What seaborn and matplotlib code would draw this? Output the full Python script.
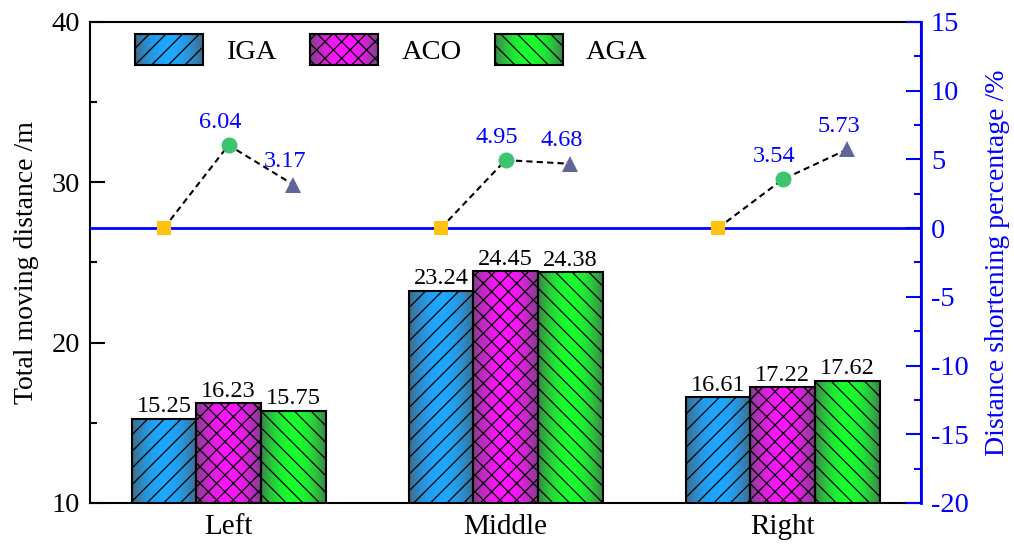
import numpy as np
import pandas as pd
import matplotlib
matplotlib.use("Agg")
import matplotlib.pyplot as plt
import seaborn as sns
from matplotlib.colors import to_rgb
from matplotlib.patches import Rectangle
from matplotlib.legend_handler import HandlerBase
from matplotlib.ticker import MultipleLocator

# ---- data -------------------------------------------------------------
positions = ["Left", "Middle", "Right"]
algorithms = ["IGA", "ACO", "AGA"]

iga_distance = [15.25, 23.24, 16.61]
aco_distance = [16.23, 24.45, 17.22]
aga_distance = [15.75, 24.38, 17.62]

iga_shortening = [0.0, 0.0, 0.0]
aco_shortening = [6.04, 4.95, 3.54]
aga_shortening = [3.17, 4.68, 5.73]

# ---- styling ----------------------------------------------------------
bar_colors = {"IGA": "#1ea7ff", "ACO": "#ff14ff", "AGA": "#18ff2c"}
bar_hatches = {"IGA": "//", "ACO": "xx", "AGA": "\\\\"}
point_styles = {"IGA": ("s", "#ffc20e", 10),
                "ACO": ("o", "#3dc46f", 11.5),
                "AGA": ("^", "#62659a", 11.5)}
BLUE = "#0000ff"

sns.set_theme(style="ticks")
plt.rcParams["font.family"] = ["Liberation Serif", "DejaVu Serif"]
plt.rcParams["axes.unicode_minus"] = False
plt.rcParams["hatch.linewidth"] = 0.9
for key in ("text.color", "axes.labelcolor", "xtick.color", "ytick.color",
            "axes.edgecolor"):
    plt.rcParams[key] = "black"


def shade(color, n):
    """Horizontal shading: dark greyish edges, bright centre."""
    c = np.array(to_rgb(color))
    edge = 0.25 * c + 0.75 * np.array([0.30, 0.32, 0.35])
    t = np.linspace(0, 1, n)
    f = np.sin(np.pi * t) ** 0.8
    return edge + (c - edge) * f[:, None]


class ShadedPatchHandler(HandlerBase):
    def create_artists(self, legend, orig_handle, xdescent, ydescent,
                       width, height, fontsize, trans):
        x0, y0 = -xdescent, -ydescent
        n = 40
        cols = shade(orig_handle.get_facecolor(), n)
        arts = []
        for k, c in enumerate(cols):
            arts.append(Rectangle((x0 + k * width / n, y0), width / n * 1.1, height,
                                  facecolor=c, edgecolor="none", transform=trans))
        arts.append(Rectangle((x0, y0), width, height, facecolor="none",
                              edgecolor="black", hatch=orig_handle.get_hatch(),
                              linewidth=1.5, transform=trans))
        return arts


df = pd.DataFrame({
    "position": positions * 3,
    "algorithm": np.repeat(algorithms, len(positions)),
    "distance": iga_distance + aco_distance + aga_distance,
})
shortening = {"IGA": iga_shortening, "ACO": aco_shortening, "AGA": aga_shortening}

fig = plt.figure(figsize=(10.14, 5.44), dpi=100)
ax = fig.add_axes([0.0888, 0.0754, 0.8196, 0.8842])

sns.barplot(data=df, x="position", y="distance", hue="algorithm",
            order=positions, hue_order=algorithms, palette=bar_colors,
            width=0.7, saturation=1, edgecolor="black", linewidth=1.5,
            legend=False, ax=ax)

# shaded fill + hatch on each bar
centers = {}
for container, alg in zip(ax.containers, algorithms):
    grad = shade(bar_colors[alg], 64)[np.newaxis, :, :]
    centers[alg] = []
    for bar in container:
        x0, w = bar.get_x(), bar.get_width()
        y0, h = bar.get_y(), bar.get_height()
        ax.imshow(grad, extent=[x0, x0 + w, y0, y0 + h], aspect="auto",
                  interpolation="bilinear", zorder=1.5)
        bar.set_facecolor("none")
        bar.set_hatch(bar_hatches[alg])
        bar.set_zorder(2)
        centers[alg].append(x0 + w / 2)
    ax.bar_label(container, fmt="%.2f", fontsize=17.5, padding=1, color="black")

ax.set_xlim(-0.5, 2.5)
ax.set_ylim(10, 40)
ax.yaxis.set_major_locator(MultipleLocator(10))
ax.yaxis.set_minor_locator(MultipleLocator(5))
ax.set_xlabel("")
ax.set_ylabel("Total moving distance /m", fontsize=20, labelpad=9)
ax.tick_params(axis="y", which="major", direction="in", length=11, width=1.5,
               labelsize=20.5, pad=7, colors="black")
ax.tick_params(axis="y", which="minor", direction="in", length=5, width=1.5)
ax.tick_params(axis="x", length=0, labelsize=21, pad=8, colors="black")
for s in ax.spines.values():
    s.set_linewidth(1.5)
    s.set_color("black")
    s.set_visible(True)

# ---- secondary axis: shortening percentage ----------------------------
ax2 = ax.twinx()
ax2.axhline(0, color=BLUE, linewidth=2, zorder=1)
for i in range(len(positions)):
    xs = [centers[a][i] for a in algorithms]
    ys = [shortening[a][i] for a in algorithms]
    ax2.plot(xs, ys, color="black", linestyle=(0, (3, 2)), linewidth=1.5, zorder=2)
    for a, x, y in zip(algorithms, xs, ys):
        m, c, ms = point_styles[a]
        ax2.plot([x], [y], marker=m, color=c, markersize=ms,
                 markeredgewidth=0, linestyle="none", zorder=3)
        if a != "IGA":
            ax2.annotate(f"{y:.2f}", (x, y), xytext=(-6, 9),
                         textcoords="offset points", ha="center", va="bottom",
                         color=BLUE, fontsize=17.5)

ax2.set_ylim(-20, 15)
ax2.yaxis.set_major_locator(MultipleLocator(5))
ax2.yaxis.set_minor_locator(MultipleLocator(2.5))
ax2.set_ylabel("Distance shortening percentage /%", fontsize=20, color=BLUE,
               labelpad=12)
ax2.tick_params(axis="y", which="major", direction="in", length=11, width=1.5,
                labelsize=20.5, pad=7, colors=BLUE)
ax2.tick_params(axis="y", which="minor", direction="in", length=5, width=1.5,
                colors=BLUE)
ax2.spines["right"].set_color(BLUE)
ax2.spines["right"].set_linewidth(2)
ax2.spines["left"].set_visible(False)
ax2.spines["top"].set_visible(False)
ax2.spines["bottom"].set_visible(False)
ax2.grid(False)

# ---- legend -----------------------------------------------------------
handles = [Rectangle((0, 0), 1, 1, facecolor=bar_colors[a], hatch=bar_hatches[a],
                     edgecolor="black") for a in algorithms]
handler = ShadedPatchHandler()
ax.legend(handles, algorithms, handler_map={h: handler for h in handles},
          loc="upper left", bbox_to_anchor=(0.054, 0.975), ncol=3,
          frameon=False, fontsize=20.5, handlelength=2.4, handleheight=1.3,
          handletextpad=0.8, columnspacing=1.18, borderpad=0, borderaxespad=0)

fig.savefig("out.png", dpi=100)
